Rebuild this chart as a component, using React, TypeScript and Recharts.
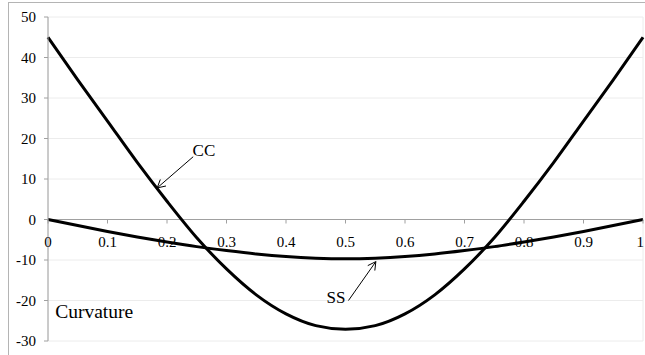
import { CartesianGrid, Line, LineChart, ReferenceDot, ReferenceLine, XAxis, YAxis } from "recharts";

const FONT = '"Liberation Serif", "Times New Roman", serif';

// positions along the span (0..1)
const positions = [0, 0.05, 0.1, 0.15, 0.2, 0.25, 0.3, 0.35, 0.4, 0.45, 0.5, 0.55, 0.6, 0.65, 0.7, 0.75, 0.8, 0.85, 0.9, 0.95, 1];
const ccValues = [45, 34.5, 24.3, 14.1, 4.5, -4.5, -12.2, -18.6, -23.3, -26.2, -27.1, -26.2, -23.3, -18.6, -12.2, -4.5, 4.5, 14.1, 24.3, 34.5, 45];
const ssValues = [0, -1.5, -2.95, -4.3, -5.55, -6.7, -7.65, -8.5, -9.15, -9.55, -9.7, -9.55, -9.15, -8.5, -7.65, -6.7, -5.55, -4.3, -2.95, -1.5, 0];

const xTicks = [0, 0.1, 0.2, 0.3, 0.4, 0.5, 0.6, 0.7, 0.8, 0.9, 1];
const xTickLabels = ["0", "0.1", "0.2", "0.3", "0.4", "0.5", "0.6", "0.7", "0.8", "0.9", "1"];
const yTicks = [-30, -20, -10, 0, 10, 20, 30, 40, 50];

// annotations: [x, y] in data units
const ccArrow = [{ x: 0.244, y: 15.5 }, { x: 0.1835, y: 7.8 }];
const ssArrow = [{ x: 0.505, y: -20 }, { x: 0.551, y: -10.4 }];
const ccLabel = { x: 0.243, y: 15.6, text: "CC" };
const ssLabel = { x: 0.5, y: -20.6, text: "SS" };
const titleLabel = { x: 0.012, y: -24.3, text: "Curvature" };

const data = positions.map((x, i) => ({ x, cc: ccValues[i], ss: ssValues[i] }));

const GRID = "#ececec";
const AXIS = "#a0a0a0";

function Arrow(props: any) {
  const { x1, y1, x2, y2 } = props;
  const a = Math.atan2(y2 - y1, x2 - x1);
  const len = 9;
  const spread = 0.5;
  const p1 = [x2 - len * Math.cos(a - spread), y2 - len * Math.sin(a - spread)];
  const p2 = [x2 - len * Math.cos(a + spread), y2 - len * Math.sin(a + spread)];
  return (
    <g stroke="#000" strokeWidth={1} fill="none">
      <line x1={x1} y1={y1} x2={x2} y2={y2} />
      <polyline points={`${p1[0]},${p1[1]} ${x2},${y2} ${p2[0]},${p2[1]}`} />
    </g>
  );
}

export default function App() {
  return (
    <div style={{ position: "absolute", left: 0, top: 0, width: 645, height: 355 }}>
      <style>{`body{margin:0;overflow:hidden}`}</style>
      <div
        style={{
          position: "absolute",
          left: 8,
          top: 2,
          width: 637,
          height: 353,
          borderLeft: "1px solid #b4b4b4",
          borderTop: "1px solid #b4b4b4",
          boxSizing: "border-box",
        }}
      />
      <div style={{ position: "absolute", left: 0, top: 0 }}>
        <LineChart width={645} height={355} data={data} margin={{ top: 17, right: 2, left: 0, bottom: 14 }}>
          <CartesianGrid stroke={GRID} strokeWidth={1} />
          <XAxis
            type="number"
            dataKey="x"
            domain={[0, 1]}
            ticks={xTicks}
            axisLine={false}
            tickLine={false}
            tick={false}
            height={0}
          />
          <YAxis
            type="number"
            domain={[-30, 50]}
            ticks={yTicks}
            width={48}
            tickSize={4}
            tickMargin={8}
            axisLine={{ stroke: AXIS }}
            tickLine={{ stroke: AXIS }}
            tick={{ fill: "#000", fontFamily: FONT, fontSize: 15 }}
          />
          <ReferenceLine y={0} stroke={AXIS} strokeWidth={1} />
          {xTicks.map((v, i) => {
            const last = i === xTicks.length - 1;
            return (
              <ReferenceDot
                key={v}
                x={v}
                y={0}
                shape={(p: any) => (
                  <g>
                    <line x1={p.cx} y1={p.cy} x2={p.cx} y2={p.cy + 4} stroke={AXIS} />
                    <text
                      x={last ? p.cx + 1 : p.cx}
                      y={p.cy + 27}
                      textAnchor={last ? "end" : "middle"}
                      fontFamily={FONT}
                      fontSize={15}
                      fill="#000"
                    >
                      {xTickLabels[i]}
                    </text>
                  </g>
                )}
              />
            );
          })}
          <Line type="monotone" dataKey="cc" stroke="#000" strokeWidth={3} dot={false} isAnimationActive={false} />
          <Line type="monotone" dataKey="ss" stroke="#000" strokeWidth={3} dot={false} isAnimationActive={false} />
          <ReferenceLine segment={ccArrow} shape={Arrow} />
          <ReferenceLine segment={ssArrow} shape={Arrow} />
          <ReferenceDot
            x={ccLabel.x}
            y={ccLabel.y}
            shape={(p: any) => (
              <text x={p.cx} y={p.cy} fontFamily={FONT} fontSize={17} fill="#000">
                {ccLabel.text}
              </text>
            )}
          />
          <ReferenceDot
            x={ssLabel.x}
            y={ssLabel.y}
            shape={(p: any) => (
              <text x={p.cx} y={p.cy} textAnchor="end" fontFamily={FONT} fontSize={17} fill="#000">
                {ssLabel.text}
              </text>
            )}
          />
          <ReferenceDot
            x={titleLabel.x}
            y={titleLabel.y}
            shape={(p: any) => (
              <text x={p.cx} y={p.cy} fontFamily={FONT} fontSize={19.5} fill="#000">
                {titleLabel.text}
              </text>
            )}
          />
        </LineChart>
      </div>
    </div>
  );
}
